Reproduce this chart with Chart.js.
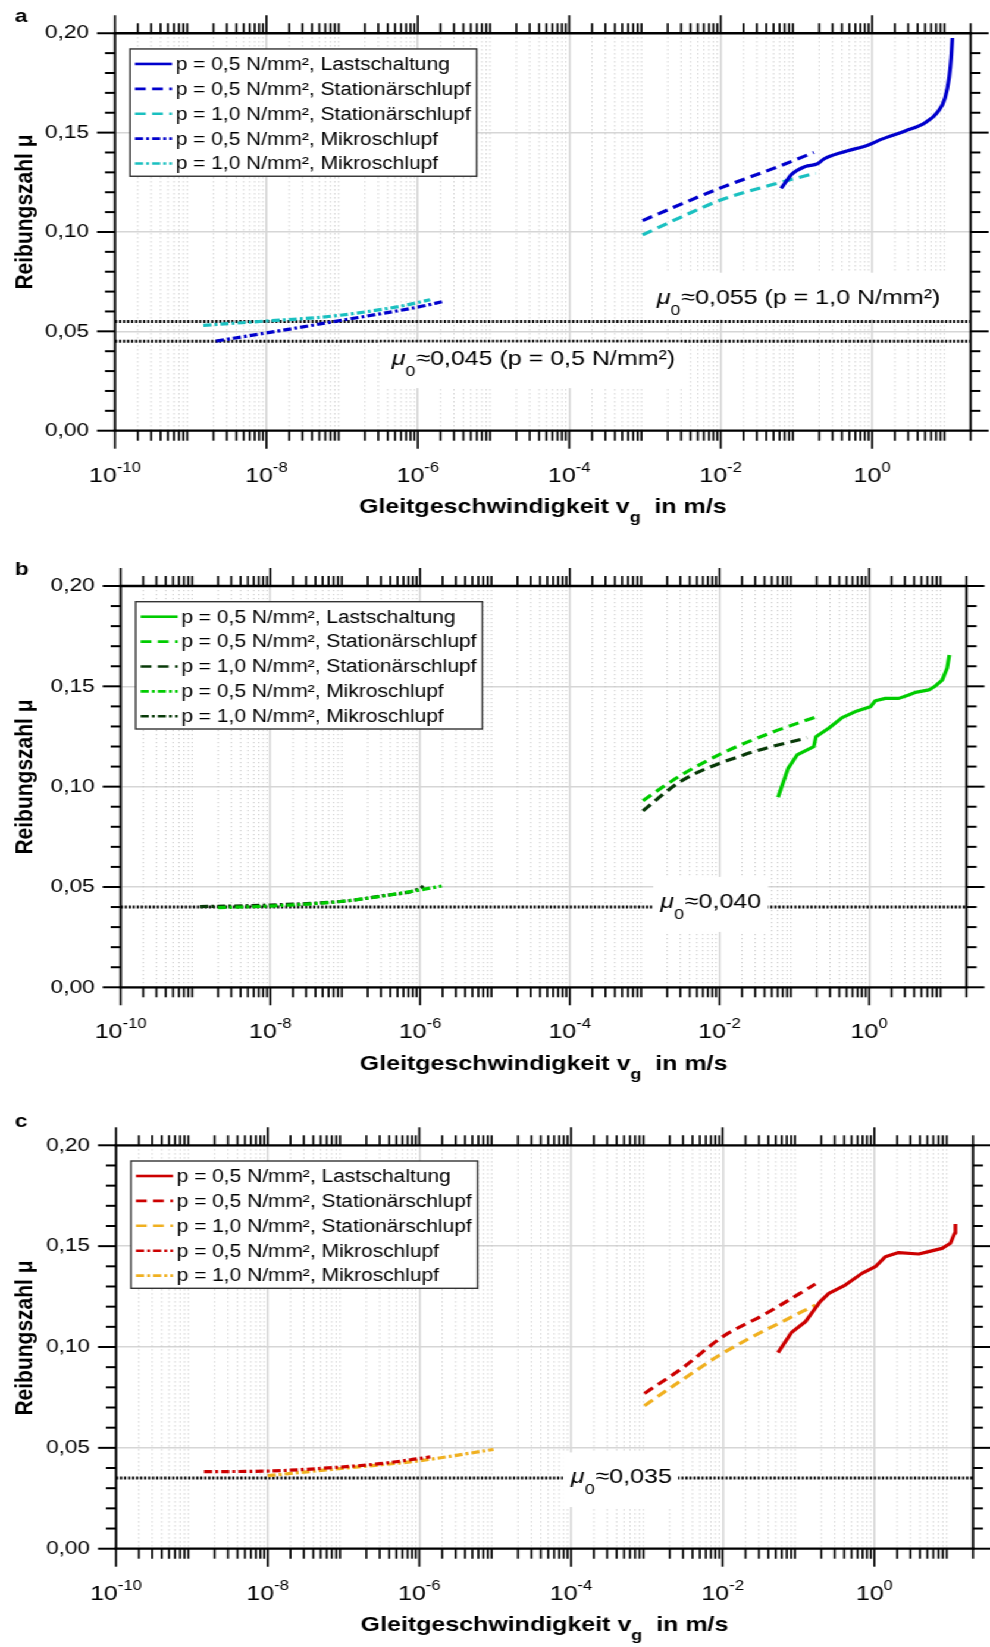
<!DOCTYPE html>
<html><head><meta charset="utf-8">
<script src="https://cdn.jsdelivr.net/npm/chart.js@4.4.1/dist/chart.umd.min.js"></script>
<style>
html,body{margin:0;padding:0;background:#fff;overflow:hidden;width:990px;height:1647px}
#wrap{position:absolute;left:0;top:0;width:832px;height:1647px;transform:scaleX(1.18990385);transform-origin:0 0}
#wrap canvas{position:absolute;left:0}
</style></head><body>
<div id="wrap">
<canvas id="cA" width="832" height="545" style="top:0px;width:832px;height:545px"></canvas>
<canvas id="cB" width="832" height="550" style="top:545px;width:832px;height:550px"></canvas>
<canvas id="cC" width="832" height="552" style="top:1095px;width:832px;height:552px"></canvas>
</div>
<script>
// ---------------- data ----------------
const xRange = [1e-10, 20];
const xMajorTicks = [1e-10, 1e-8, 1e-6, 1e-4, 1e-2, 1];
const xMajorExps = ['-10', '-8', '-6', '-4', '-2', '0'];
const xMinorMantissas = [2, 3, 4, 5, 6, 7, 8, 9];
const xMinorDecades = [-10, -9, -8, -7, -6, -5, -4, -3, -2, -1, 0, 1];
const yTickValues = [0, 0.05, 0.10, 0.15, 0.20];
const yTickLabels = ['0,00', '0,05', '0,10', '0,15', '0,20'];
const yMinorCount = 20;
const legendLabels = [
  'p = 0,5 N/mm², Lastschaltung',
  'p = 0,5 N/mm², Stationärschlupf',
  'p = 1,0 N/mm², Stationärschlupf',
  'p = 0,5 N/mm², Mikroschlupf',
  'p = 1,0 N/mm², Mikroschlupf'
];
const xTitleParts = ['Gleitgeschwindigkeit v', 'g', '  in m/s'];
const yTitle = 'Reibungszahl μ';

// panel a
const aLastV = [0.0628, 0.0746, 0.0871, 0.130, 0.192, 0.228, 0.398, 0.893, 1.34, 2.73, 5.01, 7.52, 9.2, 10.4, 11.07, 11.48];
const aLastMu = [0.1219, 0.1258, 0.1291, 0.1329, 0.1344, 0.1366, 0.1400, 0.1438, 0.1467, 0.1508, 0.1550, 0.1609, 0.1675, 0.1776, 0.1876, 0.1976];
const aStat05V = [0.00093, 0.003, 0.01, 0.05, 0.17];
const aStat05Mu = [0.1057, 0.1140, 0.1222, 0.1320, 0.1400];
const aStat10V = [0.00093, 0.003, 0.01, 0.05, 0.18];
const aStat10Mu = [0.0985, 0.1075, 0.1161, 0.1240, 0.1296];
const aMik05V = [2.16e-9, 1e-8, 1e-7, 1e-6, 2.17e-6];
const aMik05Mu = [0.0451, 0.0492, 0.0556, 0.0622, 0.0650];
const aMik10V = [1.47e-9, 1e-8, 7.6e-8, 5.8e-7, 1.45e-6];
const aMik10Mu = [0.0530, 0.0552, 0.0577, 0.0626, 0.0659];
const aMu0 = [0.055, 0.045];
const aMu0Texts = ['≈0,055 (p = 1,0 N/mm²)', '≈0,045 (p = 0,5 N/mm²)'];

// panel b
const bLastV = [0.0607, 0.0826, 0.109, 0.182, 0.195, 0.288, 0.436, 0.656, 1.04, 1.21, 1.65, 2.49, 3.38, 4.16, 6.27, 7.69, 9.46, 11.0, 11.8];
const bLastMu = [0.0947, 0.1091, 0.1158, 0.1199, 0.1249, 0.1291, 0.1344, 0.1374, 0.1398, 0.1428, 0.1440, 0.1440, 0.1457, 0.1470, 0.1482, 0.1502, 0.1531, 0.1590, 0.1656];
const bStat05V = [0.00095, 0.003, 0.012, 0.05, 0.2];
const bStat05Mu = [0.0930, 0.1055, 0.1174, 0.1270, 0.1349];
const bStat10V = [0.00095, 0.003, 0.021, 0.148];
const bStat10Mu = [0.0879, 0.1025, 0.1158, 0.1244];
const bMik05V = [2.0e-9, 1e-8, 1e-7, 1e-6, 1.95e-6];
const bMik05Mu = [0.0397, 0.0405, 0.0430, 0.0485, 0.0505];
const bMik10V = [1.15e-9, 1e-8, 1e-7, 3e-7, 1e-6, 1.11e-6];
const bMik10Mu = [0.0402, 0.0410, 0.0430, 0.0455, 0.0493, 0.0505];
const bMu0 = [0.040];
const bMu0Texts = ['≈0,040'];

// panel c
const cLastV = [0.0537, 0.0804, 0.123, 0.193, 0.251, 0.414, 0.687, 1.03, 1.40, 2.09, 3.85, 5.2, 7.82, 10.07, 11.46, 11.72];
const cLastMu = [0.0972, 0.1071, 0.1125, 0.1225, 0.1266, 0.1307, 0.1365, 0.1398, 0.1448, 0.1468, 0.1461, 0.1473, 0.1489, 0.1514, 0.1564, 0.1610];
const cStat05V = [0.00093, 0.0029, 0.01, 0.0365, 0.167];
const cStat05Mu = [0.0770, 0.0894, 0.1051, 0.1164, 0.1312];
const cStat10V = [0.00093, 0.0029, 0.01, 0.111, 0.167];
const cStat10Mu = [0.0709, 0.0836, 0.0969, 0.1175, 0.1208];
const cMik05V = [1.45e-9, 1e-8, 7.2e-8, 3.3e-7, 1.39e-6];
const cMik05Mu = [0.0382, 0.0385, 0.0402, 0.0423, 0.0455];
const cMik10V = [1e-8, 1e-7, 1e-6, 9.5e-6];
const cMik10Mu = [0.0362, 0.0399, 0.0436, 0.0492];
const cMu0 = [0.035];
const cMu0Texts = ['≈0,035'];

// ---------------- rendering ----------------
const S = 990 / 832;            // horizontal stretch of the page
const X = v => v / S;           // real px -> canvas px (horizontal)
const FONT = "'Liberation Sans', Arial, Helvetica, sans-serif";
const xMinorTicks = [];
xMinorDecades.forEach(d => xMinorMantissas.forEach(m => {
  const v = m * Math.pow(10, d);
  if (v <= xRange[1] * 1.0001) xMinorTicks.push(v);
}));
const DASH = [9, 5.4];
const DASHDOT = [6.8, 2.6, 2.4, 2.6];

function pts(V, M) { return V.map((v, i) => ({ x: v, y: M[i] })); }
function series(label, V, M, color, dash, smooth) {
  return { label, data: pts(V, M), borderColor: color, backgroundColor: color,
    borderWidth: 3.2, borderDash: dash, pointRadius: 0, pointHoverRadius: 0,
    showLine: true, fill: false, cubicInterpolationMode: smooth ? 'monotone' : 'default', tension: smooth ? 0.3 : 0,
    borderJoinStyle: 'round' };
}
function refLine(mu) {
  return { label: 'μ0', data: [{ x: xRange[0], y: mu }, { x: xRange[1], y: mu }],
    borderColor: '#000', borderWidth: 3, borderDash: [1.8, 1.57], pointRadius: 0,
    showLine: true, fill: false, isRef: true };
}
function line(ctx, x1, y1, x2, y2) { ctx.beginPath(); ctx.moveTo(x1, y1); ctx.lineTo(x2, y2); ctx.stroke(); }

const deco = {
  id: 'deco',
  beforeDatasetsDraw(chart, args, o) {
    const { ctx, chartArea: a } = chart; const x = chart.scales.x;
    ctx.save();
    ctx.strokeStyle = '#c4c4c4'; ctx.lineWidth = X(1.1); ctx.setLineDash([1.2, 2.8]);
    for (const v of xMinorTicks) {
      if (v >= xRange[1] * 0.999) continue;
      const px = x.getPixelForValue(v);
      line(ctx, px, a.top, px, a.bottom);
    }
    ctx.restore();
  },
  afterDatasetsDraw(chart, args, o) {
    const { ctx } = chart; const x = chart.scales.x, y = chart.scales.y;
    ctx.save();
    o.texts.forEach((t, i) => {
      const L = o.labels[i];
      const px = x.getPixelForValue(L.x), base = y.getPixelForValue(L.y);
      const fMain = `21px ${FONT}`, fMu = `italic 21px ${FONT}`, fSub = `15px ${FONT}`;
      ctx.font = fMu; const w1 = ctx.measureText('μ').width;
      ctx.font = fSub; const w2 = ctx.measureText('0').width;
      ctx.font = fMain; const w3 = ctx.measureText(t).width;
      const [pl, pr, pt, pb] = L.pad;
      ctx.fillStyle = '#fff';
      ctx.fillRect(px - X(pl), base - 15 - pt, w1 + w2 + w3 + X(pl) + X(pr), 15 + pt + pb);
      ctx.fillStyle = '#000'; ctx.textBaseline = 'alphabetic'; ctx.textAlign = 'left';
      ctx.font = fMu; ctx.fillText('μ', px, base);
      ctx.font = fSub; ctx.fillText('0', px + w1, base + 11);
      ctx.font = fMain; ctx.fillText(t, px + w1 + w2 + X(1), base);
    });
    ctx.restore();
  },
  afterDraw(chart, args, o) {
    const { ctx, chartArea: a } = chart; const x = chart.scales.x, y = chart.scales.y;
    ctx.save();
    ctx.strokeStyle = '#000'; ctx.setLineDash([]); ctx.lineCap = 'butt';
    // x ticks
    ctx.lineWidth = X(2);
    xMajorTicks.forEach(v => { const px = x.getPixelForValue(v); line(ctx, px, a.bottom, px, a.bottom + 18); line(ctx, px, a.top, px, a.top - 18); });
    xMinorTicks.forEach(v => { const px = x.getPixelForValue(v); line(ctx, px, a.bottom, px, a.bottom + 10); line(ctx, px, a.top, px, a.top - 10); });
    // y ticks
    ctx.lineWidth = 2;
    for (let k = 0; k <= yMinorCount; k++) {
      const py = y.getPixelForValue(k * 0.01);
      const len = (k % 5 === 0) ? X(18) : X(10);
      line(ctx, a.left - len, py, a.left, py);
      line(ctx, a.right, py, a.right + len, py);
    }
    // frame
    ctx.lineWidth = 2.3;
    line(ctx, a.left - X(1.2), a.top, a.right + X(1.2), a.top);
    line(ctx, a.left - X(1.2), a.bottom, a.right + X(1.2), a.bottom);
    ctx.lineWidth = X(2.3);
    line(ctx, a.left, a.top, a.left, a.bottom);
    line(ctx, a.right, a.top, a.right, a.bottom);
    // x tick labels
    ctx.fillStyle = '#000'; ctx.textBaseline = 'alphabetic'; ctx.textAlign = 'left';
    xMajorTicks.forEach((v, i) => {
      const px = x.getPixelForValue(v);
      ctx.font = `21px ${FONT}`; const w1 = ctx.measureText('10').width;
      ctx.font = `14px ${FONT}`; const w2 = ctx.measureText(xMajorExps[i]).width;
      const x0 = px - (w1 + w2) / 2;
      ctx.font = `21px ${FONT}`; ctx.fillText('10', x0, a.bottom + 51);
      ctx.font = `14px ${FONT}`; ctx.fillText(xMajorExps[i], x0 + w1, a.bottom + 41);
    });
    // x title
    {
      const fB = `bold 21px ${FONT}`, fS = `bold 15px ${FONT}`;
      ctx.font = fB; const t1 = ctx.measureText(xTitleParts[0]).width, t3 = ctx.measureText(xTitleParts[2]).width;
      ctx.font = fS; const t2 = ctx.measureText(xTitleParts[1]).width;
      const cx = (a.left + a.right) / 2, x0 = cx - (t1 + t2 + t3) / 2, by = a.bottom + 82.5;
      ctx.font = fB; ctx.fillText(xTitleParts[0], x0, by);
      ctx.font = fS; ctx.fillText(xTitleParts[1], x0 + t1, by + 9);
      ctx.font = fB; ctx.fillText(xTitleParts[2], x0 + t1 + t2, by);
    }
    // y title
    ctx.save();
    ctx.translate(X(25), o.yTitleY); ctx.rotate(-Math.PI / 2);
    ctx.font = `bold 21px ${FONT}`; ctx.textAlign = 'center'; ctx.textBaseline = 'middle';
    ctx.fillText(yTitle, 0, 0);
    ctx.restore();
    // panel letter
    ctx.font = `bold 19px ${FONT}`; ctx.textAlign = 'left'; ctx.textBaseline = 'alphabetic';
    ctx.fillText(o.letter, X(15), o.letterY);
    // legend
    {
      const lx = a.left + X(15), ly = a.top + 15.7;
      ctx.font = `17.6px ${FONT}`;
      const tw = Math.max(...legendLabels.map(t => ctx.measureText(t).width));
      const bw = X(45.7) + tw + X(6), bh = 127.3;
      ctx.fillStyle = '#fff'; ctx.fillRect(lx, ly, bw, bh);
      ctx.strokeStyle = '#333'; ctx.lineWidth = 1.4; ctx.strokeRect(lx, ly, bw, bh);
      ctx.textBaseline = 'middle';
      for (let i = 0; i < 5; i++) {
        const ds = chart.data.datasets[i]; const cy = ly + 15 + i * 24.9;
        ctx.strokeStyle = ds.borderColor; ctx.lineWidth = 2.6; ctx.setLineDash(ds.borderDash || []);
        line(ctx, lx + X(5), cy, lx + X(42), cy);
        ctx.setLineDash([]); ctx.fillStyle = '#000';
        ctx.fillText(ds.label, lx + X(45.7), cy + 1);
      }
    }
    ctx.restore();
  }
};

function makeChart(P) {
  const H = P.H;
  const datasets = [
    series(legendLabels[0], P.d[0][0], P.d[0][1], P.c1, [], P.smoothLast),
    series(legendLabels[1], P.d[1][0], P.d[1][1], P.c1, DASH, true),
    series(legendLabels[2], P.d[2][0], P.d[2][1], P.c2, DASH, true),
    series(legendLabels[3], P.d[3][0], P.d[3][1], P.c1, DASHDOT, true),
    series(legendLabels[4], P.d[4][0], P.d[4][1], P.c2, DASHDOT, true)
  ];
  P.mu0.forEach(m => datasets.push(refLine(m)));
  return new Chart(document.getElementById(P.id), {
    type: 'scatter',
    data: { datasets },
    options: {
      responsive: false, animation: false, devicePixelRatio: 1,
      layout: { padding: { left: 0, right: X(990 - P.right), top: P.top, bottom: 0 } },
      plugins: { legend: { display: false }, tooltip: { enabled: false },
        deco: { texts: P.texts, labels: P.labels, letter: P.letter, letterY: P.letterY, yTitleY: P.yTitleY } },
      scales: {
        x: { type: 'logarithmic', position: 'bottom', min: xRange[0], max: xRange[1],
          afterBuildTicks: s => { s.ticks = xMajorTicks.map(v => ({ value: v })); },
          afterFit: s => { s.height = H - P.bottom; },
          ticks: { display: false },
          grid: { drawTicks: false, color: '#d6d6d6', lineWidth: 1.6 },
          border: { display: false } },
        y: { type: 'linear', position: 'left', min: 0, max: 0.2,
          afterBuildTicks: s => { s.ticks = yTickValues.map(v => ({ value: v })); },
          afterFit: s => { s.width = X(P.left); },
          ticks: { padding: X(26), color: '#000', font: { family: FONT, size: 19 },
            callback: (v) => { const i = yTickValues.findIndex(t => Math.abs(t - v) < 1e-9); return i >= 0 ? yTickLabels[i] : ''; } },
          grid: { drawTicks: false, color: '#d6d6d6', lineWidth: 1.6 },
          border: { display: false } }
      }
    },
    plugins: [deco]
  });
}

makeChart({ id: 'cA', H: 545, left: 115, right: 970.6, top: 32, bottom: 430.7, smoothLast: true,
  c1: '#0000cc', c2: '#1ac0c0', letter: 'a', letterY: 22, yTitleY: 212,
  d: [[aLastV, aLastMu], [aStat05V, aStat05Mu], [aStat10V, aStat10Mu], [aMik05V, aMik05Mu], [aMik10V, aMik10Mu]],
  mu0: aMu0, texts: aMu0Texts,
  labels: [{ x: 1.43e-3, y: 0.0639, pad: [8.7, 8.3, 16, 15.7] }, { x: 4.52e-7, y: 0.033, pad: [11.7, 9.3, 7.5, 23] }] });

makeChart({ id: 'cB', H: 550, left: 120.7, right: 966.5, top: 41, bottom: 442.3, smoothLast: false,
  c1: '#00cc00', c2: '#083a08', letter: 'b', letterY: 30, yTitleY: 232,
  d: [[bLastV, bLastMu], [bStat05V, bStat05Mu], [bStat10V, bStat10Mu], [bMik05V, bMik05Mu], [bMik10V, bMik10Mu]],
  mu0: bMu0, texts: bMu0Texts,
  labels: [{ x: 1.62e-3, y: 0.0394, pad: [7, 8, 16.3, 23.7] }] });

makeChart({ id: 'cC', H: 552, left: 116, right: 973, top: 50.3, bottom: 453.7, smoothLast: false,
  c1: '#cc0000', c2: '#f0b020', letter: 'c', letterY: 31.7, yTitleY: 243,
  d: [[cLastV, cLastMu], [cStat05V, cStat05Mu], [cStat10V, cStat10Mu], [cMik05V, cMik05Mu], [cMik10V, cMik10Mu]],
  mu0: cMu0, texts: cMu0Texts,
  labels: [{ x: 1e-4, y: 0.0327, pad: [8, 7.3, 15.3, 24.3] }] });
</script>
</body></html>
